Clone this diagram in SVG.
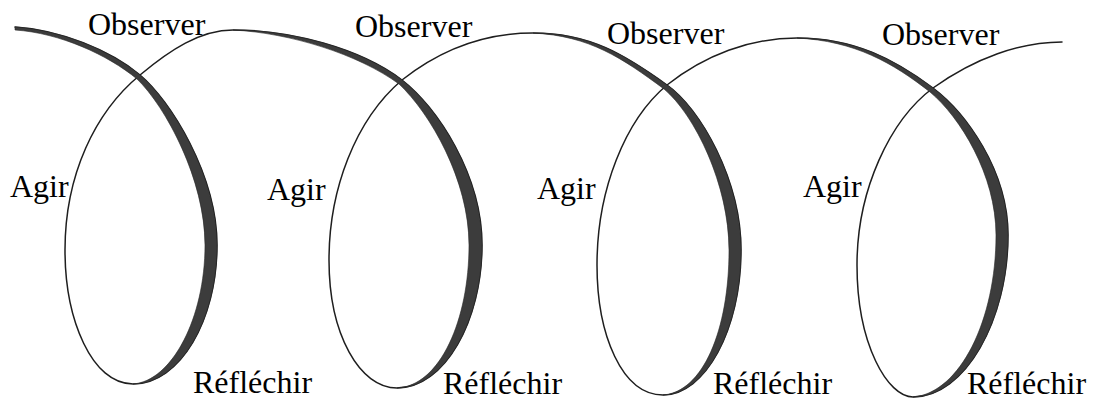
<svg xmlns="http://www.w3.org/2000/svg" width="1095" height="402" viewBox="0 0 1095 402">
<style>
.line{fill:none;stroke:#1e1e1e;stroke-width:1.5;stroke-linecap:round;stroke-linejoin:round}
.band{fill:#3c3c3c;stroke:#2a2a2a;stroke-width:0.6}
.lbl{font-family:"Liberation Serif","Times New Roman",serif;font-size:32px;fill:#000}
</style>
<rect width="1095" height="402" fill="#ffffff"/>
<g id="spiral">
<path class="line" d="M15,27 C60,30 110,50 140,75 C170,100 217,175 217,245 C217,320 180,384 133,384 C92,384 65,320 65,250 C65,175 95,112 140,75 C170,50 200,30 233,30 C290,30 360,48 402,80 C437,107 482,175 482,245 C482,320 445,388 397,388 C360,388 329,335 329,260 C329,190 355,120 402,80 C440,50 485,33 533,33 C590,33 625,55 667,85 C700,108 741,180 741,250 C741,330 705,395 663,395 C622,395 597,335 597,265 C597,190 625,120 667,85 C705,55 750,38 797,38 C855,38 895,60 933,88 C965,112 1008,170 1008,235 C1008,320 965,397 913,397 C888,397 857,345 857,265 C857,190 890,120 933,88 C975,58 1020,42 1062,42"/>
<path id="band1" class="band" d="M15,27 C60,30 110,50 140,75 C170,100 217,175 217,245 C217,320 180,384 133,384 C172,381 205,318 205,245 C205,180 166,107 137,79 C108,55 60,33 15,30 Z"/>
<path id="band2" class="band" d="M233,30 C290,30 360,48 402,80 C437,107 482,175 482,245 C482,320 445,388 397,388 C440,386 469,320 469,245 C469,180 430,113 399,84 C358,54 290,33 233,30 Z"/>
<path id="band3" class="band" d="M533,33 C590,33 625,55 667,85 C700,108 741,180 741,250 C741,330 705,395 663,395 C703,392 729,330 729,250 C729,185 695,115 664,89 C622,58 590,36 533,33 Z"/>
<path id="band4" class="band" d="M797,38 C855,38 895,60 933,88 C965,112 1008,170 1008,235 C1008,320 965,397 913,397 C960,393 996,320 996,235 C996,175 960,117 930,92 C893,63 855,41 797,38 Z"/>
</g>
<g id="labels">
<g id="loop1-labels">
<text class="lbl" x="88" y="35">Observer</text>
<text class="lbl" x="10" y="197">Agir</text>
<text class="lbl" x="193" y="393">Réfléchir</text>
</g>
<g id="loop2-labels">
<text class="lbl" x="355" y="37">Observer</text>
<text class="lbl" x="267" y="200">Agir</text>
<text class="lbl" x="443" y="394">Réfléchir</text>
</g>
<g id="loop3-labels">
<text class="lbl" x="607" y="44">Observer</text>
<text class="lbl" x="537" y="199">Agir</text>
<text class="lbl" x="713" y="394">Réfléchir</text>
</g>
<g id="loop4-labels">
<text class="lbl" x="882" y="45">Observer</text>
<text class="lbl" x="803" y="197">Agir</text>
<text class="lbl" x="967" y="394">Réfléchir</text>
</g>
</g>
</svg>
